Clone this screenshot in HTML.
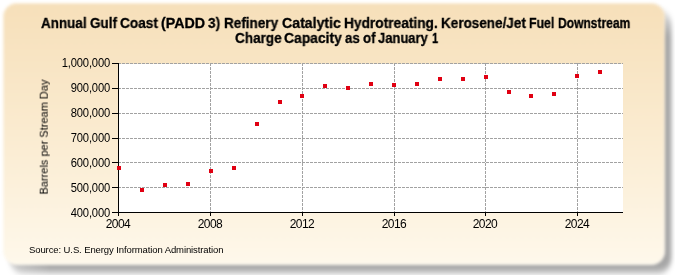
<!DOCTYPE html>
<html><head><meta charset="utf-8">
<style>
html,body{margin:0;padding:0;background:#fff;width:675px;height:275px;overflow:hidden;}
body{position:relative;font-family:"Liberation Sans",sans-serif;}
.tw,.yl,.xl,.ytitle,.src{will-change:transform;}
.yl,.xl,.ytitle,.src{-webkit-text-stroke:0px #000;}
.frame{position:absolute;left:3px;top:3px;width:662px;height:262px;border-radius:14px;box-shadow:inset 0 0 0 1px rgba(255,255,255,0.4);
 background:linear-gradient(to bottom,#F6DFB9 0%,#FAEBD0 50%,#FEF8EB 100%);filter:blur(1.5px);}
.shadow{position:absolute;left:0;top:0;}
.tw{position:absolute;white-space:nowrap;font-weight:bold;font-size:14.2px;-webkit-text-stroke:0.3px #000;line-height:15px;color:#000;transform-origin:0 0;}
svg{position:absolute;left:0;top:0;}
.yl{position:absolute;transform:scaleY(1.1);margin-top:0.7px;right:565.2px;width:80px;text-align:right;font-size:11.2px;letter-spacing:-0.17px;line-height:14px;color:#000;}
.xl{position:absolute;top:217px;width:40px;text-align:center;font-size:12px;letter-spacing:-0.55px;line-height:14px;color:#000;}
.ytitle{position:absolute;left:43.2px;top:137px;transform:translate(-50%,-50%) rotate(-90deg) scaleY(1.05);white-space:nowrap;font-size:11px;line-height:12px;color:#000;}
.src{position:absolute;left:29px;top:243.9px;font-size:9.5px;letter-spacing:-0.1px;line-height:12px;color:#000;white-space:nowrap;}
</style></head><body>
<svg class="shadow" width="675" height="275"><defs><filter id="sh" x="-10%" y="-10%" width="120%" height="120%"><feGaussianBlur stdDeviation="2 3.75"/></filter><linearGradient id="sg" gradientUnits="userSpaceOnUse" x1="0" y1="12" x2="0" y2="36"><stop offset="0" stop-color="#000" stop-opacity="0.12"/><stop offset="1" stop-color="#000" stop-opacity="0.35"/></linearGradient><linearGradient id="gx" gradientUnits="userSpaceOnUse" x1="10" y1="0" x2="50" y2="0"><stop offset="0" stop-color="#fff" stop-opacity="0.6"/><stop offset="1" stop-color="#fff" stop-opacity="1"/></linearGradient><mask id="mx" maskUnits="userSpaceOnUse" x="0" y="0" width="675" height="275"><rect x="0" y="0" width="675" height="275" fill="url(#gx)"/></mask></defs><g mask="url(#mx)"><rect x="9.5" y="10.5" width="662" height="262" rx="14" fill="url(#sg)" filter="url(#sh)"/></g></svg>
<div class="frame"></div>
<div class="tw" style="left:41.20px;top:16px;transform:scaleX(0.9461)">Annual</div>
<div class="tw" style="left:89.54px;top:16px;transform:scaleX(0.9485)">Gulf</div>
<div class="tw" style="left:119.94px;top:16px;transform:scaleX(0.9606)">Coast</div>
<div class="tw" style="left:161.34px;top:16px;transform:scaleX(1.0026)">(PADD</div>
<div class="tw" style="left:208.16px;top:16px;transform:scaleX(0.9549)">3)</div>
<div class="tw" style="left:223.68px;top:16px;transform:scaleX(0.9526)">Refinery</div>
<div class="tw" style="left:282.02px;top:16px;transform:scaleX(0.9945)">Catalytic</div>
<div class="tw" style="left:343.87px;top:16px;transform:scaleX(0.9672)">Hydrotreating.</div>
<div class="tw" style="left:441.18px;top:16px;transform:scaleX(0.9519)">Kerosene/Jet</div>
<div class="tw" style="left:529.26px;top:16px;transform:scaleX(0.8659)">Fuel</div>
<div class="tw" style="left:557.77px;top:16px;transform:scaleX(0.8488)">Downstream</div>
<div class="tw" style="left:234.54px;top:30.6px;transform:scaleX(0.9551)">Charge</div>
<div class="tw" style="left:283.73px;top:30.6px;transform:scaleX(0.9775)">Capacity</div>
<div class="tw" style="left:345.02px;top:30.6px;transform:scaleX(0.9315)">as</div>
<div class="tw" style="left:362.61px;top:30.6px;transform:scaleX(0.9308)">of</div>
<div class="tw" style="left:378.34px;top:30.6px;transform:scaleX(0.9153)">January</div>
<div class="tw" style="left:432.48px;top:30.6px;transform:scaleX(0.7779)">1</div>
<svg width="675" height="275" viewBox="0 0 675 275">
<rect x="119" y="64" width="504" height="148" fill="#fff"/>
<g stroke="#a2a2a2" stroke-width="1" stroke-dasharray="3,1" shape-rendering="crispEdges">
<line x1="118" y1="63.5" x2="623" y2="63.5"/>
<line x1="118" y1="88.5" x2="623" y2="88.5"/>
<line x1="118" y1="113.5" x2="623" y2="113.5"/>
<line x1="118" y1="138.5" x2="623" y2="138.5"/>
<line x1="118" y1="162.5" x2="623" y2="162.5"/>
<line x1="118" y1="187.5" x2="623" y2="187.5"/>
<line x1="210.5" y1="63" x2="210.5" y2="212"/>
<line x1="302.5" y1="63" x2="302.5" y2="212"/>
<line x1="394.5" y1="63" x2="394.5" y2="212"/>
<line x1="485.5" y1="63" x2="485.5" y2="212"/>
<line x1="577.5" y1="63" x2="577.5" y2="212"/>
</g>
<g stroke="#000" stroke-width="1" shape-rendering="crispEdges">
<line x1="118.5" y1="63" x2="118.5" y2="213"/>
<line x1="118" y1="212.5" x2="623" y2="212.5"/>
<line x1="112" y1="63.5" x2="118" y2="63.5"/>
<line x1="112" y1="88.5" x2="118" y2="88.5"/>
<line x1="112" y1="113.5" x2="118" y2="113.5"/>
<line x1="112" y1="138.5" x2="118" y2="138.5"/>
<line x1="112" y1="162.5" x2="118" y2="162.5"/>
<line x1="112" y1="187.5" x2="118" y2="187.5"/>
<line x1="112" y1="212.5" x2="118" y2="212.5"/>
<line x1="118.5" y1="213" x2="118.5" y2="216"/>
<line x1="210.5" y1="213" x2="210.5" y2="216"/>
<line x1="302.5" y1="213" x2="302.5" y2="216"/>
<line x1="394.5" y1="213" x2="394.5" y2="216"/>
<line x1="485.5" y1="213" x2="485.5" y2="216"/>
<line x1="577.5" y1="213" x2="577.5" y2="216"/>
</g>
<g fill="#E00012" shape-rendering="crispEdges">
<rect x="117" y="166" width="4" height="4"/>
<rect x="140" y="188" width="4" height="4"/>
<rect x="163" y="183" width="4" height="4"/>
<rect x="186" y="182" width="4" height="4"/>
<rect x="209" y="169" width="4" height="4"/>
<rect x="232" y="166" width="4" height="4"/>
<rect x="255" y="122" width="4" height="4"/>
<rect x="278" y="100" width="4" height="4"/>
<rect x="300" y="94" width="4" height="4"/>
<rect x="323" y="84" width="4" height="4"/>
<rect x="346" y="86" width="4" height="4"/>
<rect x="369" y="82" width="4" height="4"/>
<rect x="392" y="83" width="4" height="4"/>
<rect x="415" y="82" width="4" height="4"/>
<rect x="438" y="77" width="4" height="4"/>
<rect x="461" y="77" width="4" height="4"/>
<rect x="484" y="75" width="4" height="4"/>
<rect x="507" y="90" width="4" height="4"/>
<rect x="529" y="94" width="4" height="4"/>
<rect x="552" y="92" width="4" height="4"/>
<rect x="575" y="74" width="4" height="4"/>
<rect x="598" y="70" width="4" height="4"/>
</g>
</svg>
<div class="yl" style="top:55px">1,000,000</div>
<div class="yl" style="top:80px">900,000</div>
<div class="yl" style="top:105px">800,000</div>
<div class="yl" style="top:130px">700,000</div>
<div class="yl" style="top:155.3px">600,000</div>
<div class="yl" style="top:180.3px">500,000</div>
<div class="yl" style="top:205.3px">400,000</div>
<div class="xl" style="left:97.5px">2004</div>
<div class="xl" style="left:189.5px">2008</div>
<div class="xl" style="left:281.5px">2012</div>
<div class="xl" style="left:373.5px">2016</div>
<div class="xl" style="left:464.5px">2020</div>
<div class="xl" style="left:556.5px">2024</div>
<div class="ytitle">Barrels per Stream Day</div>
<div class="src">Source: U.S. Energy Information Administration</div>
</body></html>
